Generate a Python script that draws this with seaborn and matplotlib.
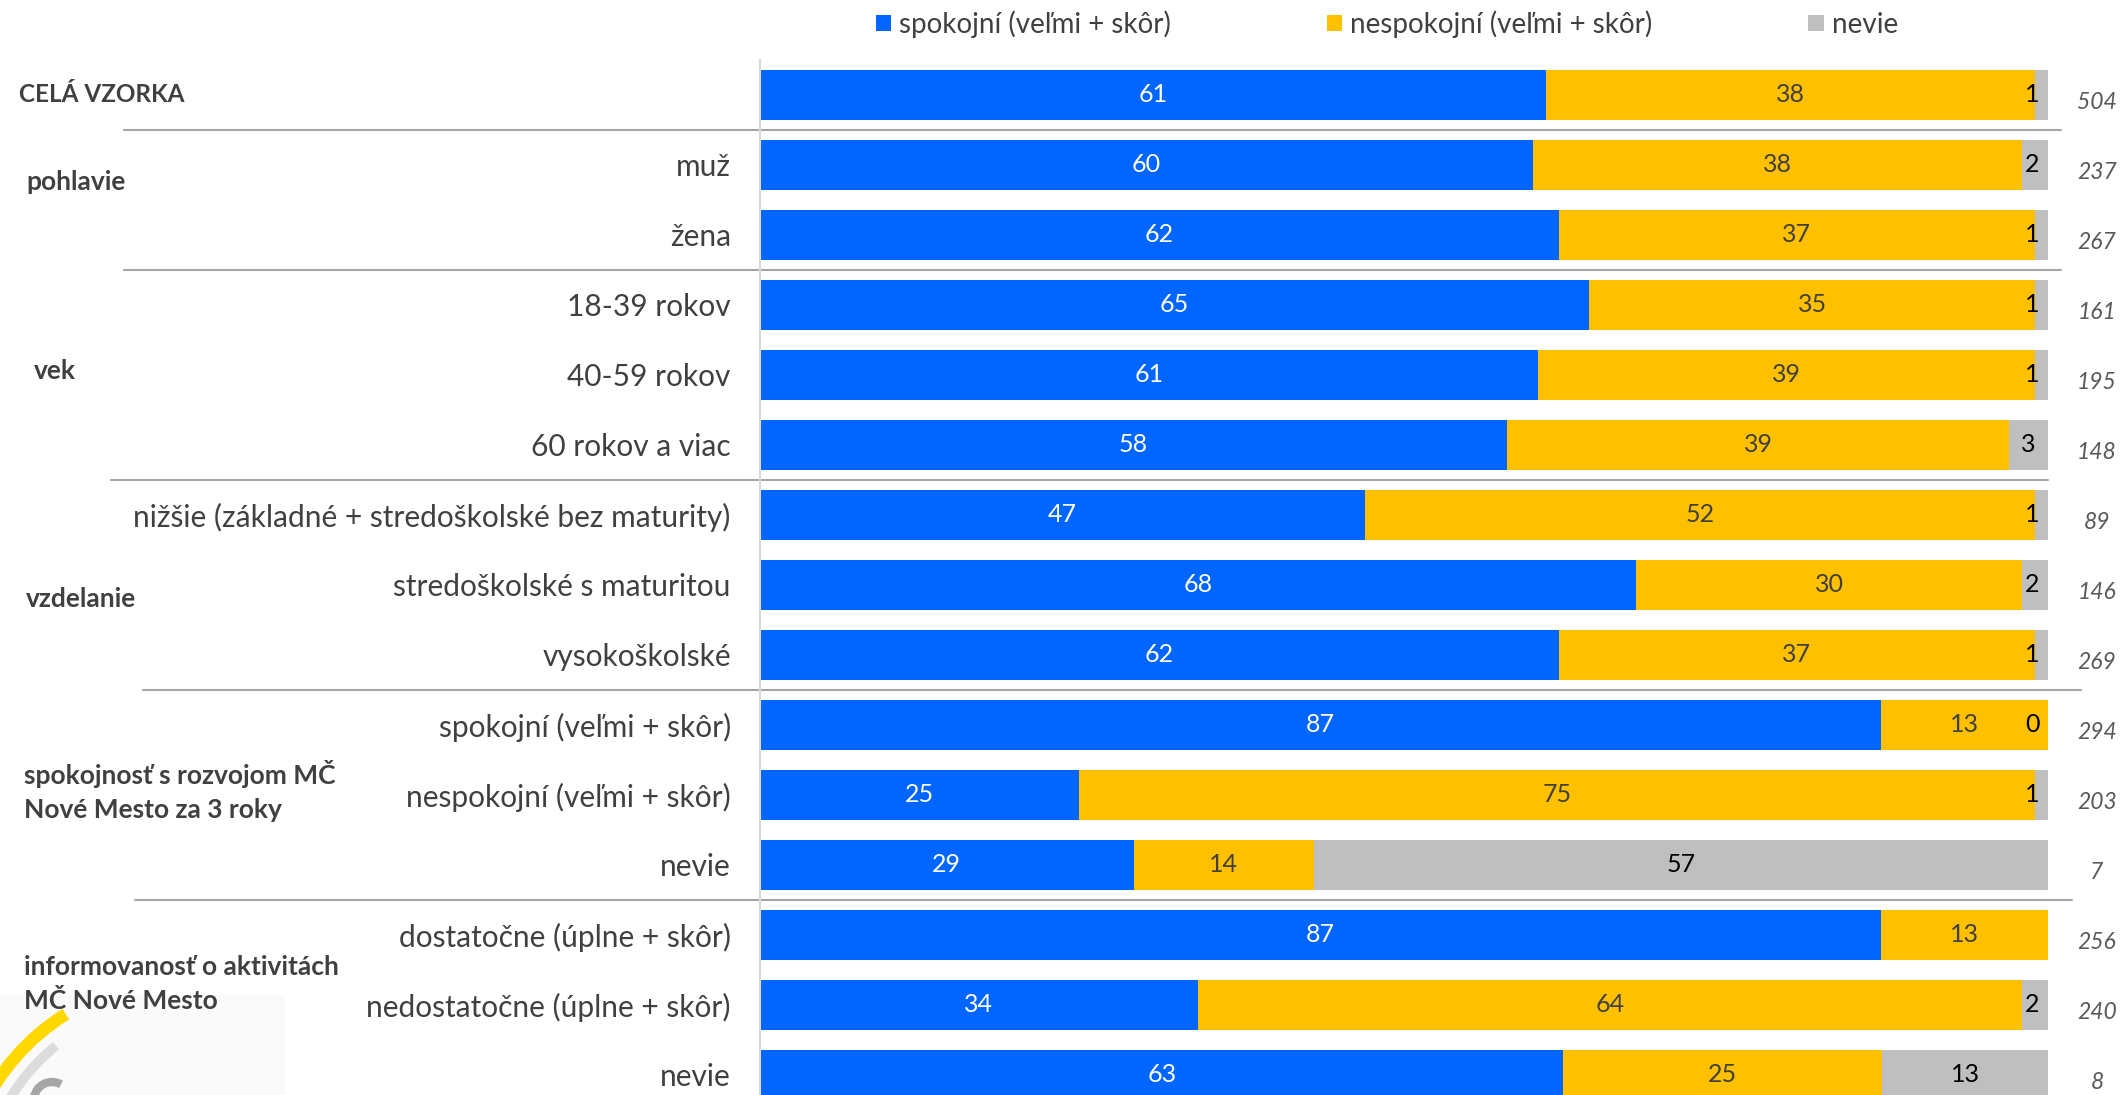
import numpy as np
import pandas as pd
import matplotlib
matplotlib.use('Agg')
import matplotlib.pyplot as plt
import matplotlib.transforms as mtrans
from matplotlib.lines import Line2D
from matplotlib.patches import Patch, Arc, Rectangle
import seaborn as sns

# subgroup labels, top to bottom
sub_labels = ['', 'muž', 'žena', '18-39 rokov', '40-59 rokov', '60 rokov a viac',
              'nižšie (základné + stredoškolské bez maturity)', 'stredoškolské s maturitou',
              'vysokoškolské', 'spokojní (veľmi + skôr)', 'nespokojní (veľmi + skôr)', 'nevie',
              'dostatočne (úplne + skôr)', 'nedostatočne (úplne + skôr)', 'nevie']
spokojni = [61, 60, 62, 65, 61, 58, 47, 68, 62, 87, 25, 29, 87, 34, 63]
nespokojni = [38, 38, 37, 35, 39, 39, 52, 30, 37, 13, 75, 14, 13, 64, 25]
nevie = [1, 2, 1, 1, 1, 3, 1, 2, 1, 0, 1, 57, np.nan, 2, 13]
n_resp = [504, 237, 267, 161, 195, 148, 89, 146, 269, 294, 203, 7, 256, 240, 8]

group_labels = ['CELÁ VZORKA', 'pohlavie', 'vek', 'vzdelanie',
                'spokojnosť s rozvojom MČ\nNové Mesto za 3 roky',
                'informovanosť o aktivitách\nMČ Nové Mesto']
series_names = ['spokojní (veľmi + skôr)', 'nespokojní (veľmi + skôr)', 'nevie']
colors = ['#0066FF', '#FFC000', '#BFBFBF']

# layout of the left hand group labels and separators (pixels / row positions / font size)
group_pos = [(19, 0, 17.5), (26, 1.25, 19), (34, 3.95, 19), (26, 7.2, 19),
             (24, 9.95, 19), (24, 12.7, 19)]
sep_rows = [0.5, 2.5, 5.5, 8.5, 11.5]
sep_x = [(124, 2061), (124, 2061), (111, 2048), (143, 2081), (135, 2072)]

W, H = 2120, 1095

sns.set_style('white')
plt.rcParams['font.family'] = ['Lato', 'DejaVu Sans']

df = pd.DataFrame({'row': range(len(sub_labels)), 'a': spokojni, 'b': nespokojni,
                   'c': pd.Series(nevie).fillna(0)})
tot = df[['a', 'b', 'c']].sum(axis=1)
df['s1'] = df['a'] / tot * 100
df['s2'] = (df['a'] + df['b']) / tot * 100
df['s3'] = (df['a'] + df['b'] + df['c']) / tot * 100

fig = plt.figure(figsize=(W / 100, H / 100), dpi=100)

# background decoration (logo in the bottom-left corner)
bg = fig.add_axes([0, 0, 1, 1], zorder=-1)
bg.set_xlim(0, W)
bg.set_ylim(H, 0)
bg.axis('off')
bg.add_patch(Rectangle((0, 995), 285, 100, color='#FAFAFA', lw=0))
bg.add_patch(Arc((185, 1205), 450, 450, theta1=170, theta2=238, color='#FFD800', lw=9))
bg.add_patch(Arc((185, 1205), 410, 410, theta1=170, theta2=231, color='#DCDCDC', lw=7))
bg.add_patch(Arc((52, 1100), 36, 36, theta1=190, theta2=300, color='#A6A6A6', lw=6))

ax = fig.add_axes([760 / W, 0, 1288 / W, 1035 / H])
for col, c in zip(['s3', 's2', 's1'], colors[::-1]):
    sns.barplot(data=df, x=col, y='row', orient='h', color=c, saturation=1,
                width=0.714, linewidth=0, errorbar=None, ax=ax)

ax.set_xlim(0, 100)
ax.set_ylim(14.286, -0.5)
ax.set_xticks([])
ax.set_xlabel('')
ax.set_ylabel('')
ax.set_yticks(range(len(sub_labels)))
ax.set_yticklabels(sub_labels, fontsize=21.5, color='#404040')
ax.tick_params(axis='y', length=0, pad=21)
sns.despine(ax=ax, left=False, bottom=True)
ax.spines['left'].set_color('#D9D9D9')
ax.spines['left'].set_linewidth(1.5)

# value labels inside the bars
for i, r in df.iterrows():
    ax.text(r['s1'] / 2, i, f"{spokojni[i]}", ha='center', va='center',
            fontsize=18, color='white')
    ax.text((r['s1'] + r['s2']) / 2, i, f"{nespokojni[i]}", ha='center', va='center',
            fontsize=18, color='#404040')
    if not np.isnan(nevie[i]):
        x = min((r['s2'] + r['s3']) / 2, 98.8)
        ax.text(x, i, f"{int(nevie[i])}", ha='center', va='center',
                fontsize=18, color='black')

blend = mtrans.blended_transform_factory(fig.transFigure, ax.transData)

for i, n in enumerate(n_resp):
    ax.text(2097 / W, i + 0.11, str(n), transform=blend, ha='center', va='center',
            fontsize=16.5, fontstyle='italic', color='#595959', clip_on=False)

for lab, (px, yr, fs) in zip(group_labels, group_pos):
    ax.text(px / W, yr, lab, transform=blend, ha='left', va='center', fontsize=fs,
            fontweight='bold', color='#404040', linespacing=1.5, clip_on=False)

for yr, (x0, x1) in zip(sep_rows, sep_x):
    ax.add_line(Line2D([x0 / W, x1 / W], [yr, yr], transform=blend, color='#A6A6A6',
                       lw=1.5, clip_on=False))

handles = [Patch(facecolor=c, edgecolor='none') for c in colors]
fig.legend(handles, series_names, loc='center', bbox_to_anchor=(1387 / W, 1 - 24 / H),
           ncol=3, frameon=False, fontsize=20, handlelength=0.55, handleheight=0.55,
           handletextpad=0.3, columnspacing=5.6, labelcolor='#404040')

fig.savefig('out.png', dpi=100)
